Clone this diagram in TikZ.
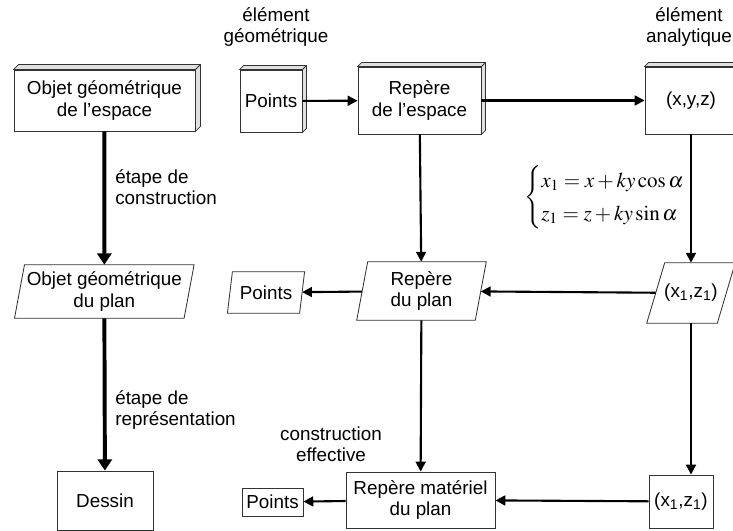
\documentclass[tikz,border=0pt]{standalone}
\usepackage{mathptmx}
\usepackage{fontspec}
\setmainfont{Liberation Sans}
\usetikzlibrary{arrows.meta}
\newcommand{\cubeside}[2]{%
  \draw[bord,fill=black!12] (#1.north west) -- ++(#2,-#2) -- ([shift={(#2,-#2)}]#1.north east)
    -- ([shift={(#2,-#2)}]#1.south east) -- (#1.south east) -- (#1.north east) -- cycle;
  \draw[bord] (#1.north east) -- ++(#2,-#2);}
\newcommand{\paraline}[2]{%
  \draw[bord] ([xshift=#2*0.25mm]#1.north west) -- ([xshift=#2*0.25mm]#1.north east)
    -- ([xshift=-#2*0.25mm]#1.south east) -- ([xshift=-#2*0.25mm]#1.south west) -- cycle;}
\tikzset{
  bord/.style={draw=black!80,line width=0.6pt},
  box/.style={bord,fill=white,rectangle,inner sep=0pt,align=center},
  para/.style={rectangle,inner sep=0pt,align=center},
  lab/.style={align=center,inner sep=0pt},
  fl/.style={line width=1.5pt,-{Triangle[length=7pt,width=7pt]}},
  flg/.style={line width=2.8pt,-{Triangle[length=8pt,width=10pt]}},
}
\begin{document}
\begin{tikzpicture}[x=0.025cm,y=-0.025cm,every node/.style={font=\fontsize{13.4}{15}\selectfont}]
\useasboundingbox (0,0) rectangle (733,531);
% colonne de gauche
\node[box,minimum width=4.525cm,minimum height=1.525cm] (objesp) at (104.5,100.5) {Objet g\'eom\'etrique\\de l'espace};
\node[para,minimum width=4.225cm,minimum height=1.325cm] (objplan) at (104.3,291.5) {Objet g\'eom\'etrique\\du plan};
\node[box,minimum width=2.4cm,minimum height=1.475cm] (dessin) at (105,500.5) {Dessin};
% ligne du haut
\node[box,minimum width=1.55cm,minimum height=1.55cm] (ptesp) at (271,101) {Points};
\node[box,minimum width=3.075cm,minimum height=1.675cm] (repesp) at (419.5,100.5) {Rep\`ere\\de l'espace};
\node[box,minimum width=2.3cm,minimum height=1.675cm] (xyz) at (691,100.5) {(x,y,z)};
% ligne du milieu
\node[para,minimum width=1.79cm,minimum height=1.025cm] (ptplan) at (266,292.5) {Points};
\node[para,minimum width=2.95cm,minimum height=1.45cm] (repplan) at (421.5,291) {Rep\`ere\\du plan};
\node[para,minimum width=1.75cm,minimum height=1.5cm] (xzplan) at (691,293) {(x\textsubscript{1},z\textsubscript{1})};
% ligne du bas
\node[box,minimum width=1.525cm,minimum height=0.7cm] (ptmat) at (272.5,502) {Points};
\node[box,minimum width=3.725cm,minimum height=1.4cm] (repmat) at (420.5,500) {Rep\`ere mat\'eriel\\du plan};
\node[box,minimum width=1.6cm,minimum height=1.325cm] (xzmat) at (681,501.5) {(x\textsubscript{1},z\textsubscript{1})};
% reliefs et parallelogrammes
\cubeside{objesp}{5}
\cubeside{ptesp}{4}
\cubeside{repesp}{4}
\cubeside{xyz}{4}
\paraline{objplan}{5}
\paraline{ptplan}{2.5}
\paraline{repplan}{5.5}
\paraline{xzplan}{9}
% textes
\node[lab] (elgeo) at (276,27) {\'el\'ement\\g\'eom\'etrique};
\node[lab] (elana) at (689,27) {\'el\'ement\\analytique};
\node[lab,anchor=west,align=left] (etcons) at (115,187.5) {\'etape de\\construction};
\node[lab,anchor=west,align=left] (etrep) at (115,410) {\'etape de\\repr\'esentation};
\node[lab] (coneff) at (331,444) {construction\\effective};
\node[lab,anchor=west,font=\fontsize{15}{18}\selectfont] (eqn) at (524,197) {$\left\{\renewcommand{\arraystretch}{1.3}\begin{array}{@{}l@{}}
  x_1 = x + ky\cos\alpha\\ z_1 = z + ky\sin\alpha\end{array}\right.$};
% fleches
\draw[flg] (objesp) -- (objplan);
\draw[flg] (objplan) -- (dessin);
\draw[fl] (ptesp) -- (repesp);
\draw[fl] (repesp) -- (xyz);
\draw[fl] (repesp) -- (repplan);
\draw[fl] (xyz) -- (xzplan);
\draw[fl] (xzplan) -- (repplan);
\draw[fl] (repplan) -- (ptplan);
\draw[fl] (repplan) -- (repmat);
\draw[fl] (xzplan.south) -- (xzplan.south |- xzmat.north);
\draw[fl] (xzmat) -- (repmat);
\draw[fl] (repmat) -- (ptmat);
\end{tikzpicture}
\end{document}
